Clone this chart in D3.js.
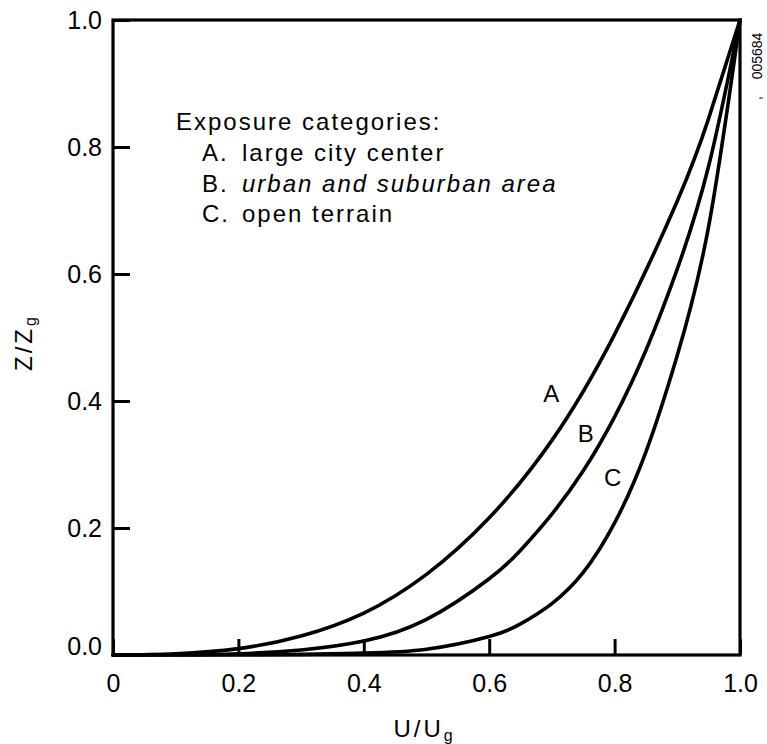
<!DOCTYPE html>
<html><head><meta charset="utf-8">
<script src="https://cdn.jsdelivr.net/npm/d3@7"></script>
<style>
html,body{margin:0;padding:0;background:#fff;}
svg{display:block;}
text{font-family:"Liberation Sans",Arial,Helvetica,sans-serif;fill:#000;}
</style></head><body>
<svg id="chart" width="767" height="744"></svg>
<script>
// ---- data ----
const uA = [0, 0.1, 0.2, 0.3, 0.4, 0.5, 0.6, 0.7, 0.8, 0.9, 0.95, 1.0];
const zA = [0, 0.002, 0.010, 0.030, 0.066, 0.127, 0.216, 0.338, 0.505, 0.715, 0.845, 1.0];
const uB = [0, 0.1, 0.2, 0.3, 0.4, 0.5, 0.6, 0.65, 0.7, 0.75, 0.8, 0.85, 0.9, 0.95, 1.0];
const zB = [0, 0.0003, 0.002, 0.008, 0.022, 0.056, 0.120, 0.165, 0.222, 0.290, 0.375, 0.480, 0.608, 0.770, 1.0];
const uC = [0, 0.2, 0.3, 0.4, 0.5, 0.6, 0.65, 0.7, 0.75, 0.8, 0.85, 0.9, 0.95, 1.0];
const zC = [0, 0.0005, 0.001, 0.003, 0.009, 0.029, 0.049, 0.081, 0.130, 0.208, 0.320, 0.472, 0.675, 1.0];

const xTicks = [0, 0.2, 0.4, 0.6, 0.8, 1.0];
const xTickLabels = ["0", "0.2", "0.4", "0.6", "0.8", "1.0"];
const yTicks = [0, 0.2, 0.4, 0.6, 0.8, 1.0];
const yTickLabels = ["0.0", "0.2", "0.4", "0.6", "0.8", "1.0"];

const curveNames = ["A", "B", "C"];
const labelU = [0.699, 0.754, 0.797];
const labelZ = [0.399, 0.335, 0.266];

const legendTitle = "Exposure categories:";
const legendKeys = ["A.", "B.", "C."];
const legendTexts = ["large city center", "urban and suburban area", "open terrain"];
const legendItalic = [false, true, false];

const xTitle = "U/U", xTitleSub = "g";
const yTitle = "Z/Z", yTitleSub = "g";
const figNumber = "005684";

// ---- layout ----
const svg = d3.select("#chart");
const L = 113, R = 740, T = 20, B = 655;
const x = d3.scaleLinear().domain([0, 1]).range([L, R]);
const y = d3.scaleLinear().domain([0, 1]).range([B, T]);
const black = "#000";

// curves
const series = [[uA, zA], [uB, zB], [uC, zC]];
const line = d3.line().x(d => x(d[0])).y(d => y(Math.max(0, d[1]))).curve(d3.curveNatural);
svg.append("g").selectAll("path").data(series).join("path")
  .attr("d", s => line(s[0].map((u, i) => [u, s[1][i]])))
  .attr("fill", "none").attr("stroke", black).attr("stroke-width", 3.6)
  .attr("stroke-linejoin", "round").attr("stroke-linecap", "round");

// axes (inward ticks)
const xAxis = d3.axisBottom(x).tickValues(xTicks)
  .tickFormat((d, i) => xTickLabels[i]).tickSizeInner(-16).tickSizeOuter(0).tickPadding(19);
const gx = svg.append("g").attr("transform", `translate(0,${B})`).call(xAxis);
gx.select(".domain").remove();
gx.selectAll(".tick line").attr("stroke", black).attr("stroke-width", 3);
gx.selectAll(".tick text").attr("font-size", 25).attr("font-family", null);

const yAxis = d3.axisLeft(y).tickValues(yTicks)
  .tickFormat((d, i) => yTickLabels[i]).tickSizeInner(-17).tickSizeOuter(0).tickPadding(11);
const gy = svg.append("g").attr("transform", `translate(${L},0)`).call(yAxis);
gy.select(".domain").remove();
gy.selectAll(".tick line").attr("stroke", black).attr("stroke-width", 3);
gy.selectAll(".tick text").attr("font-size", 25).attr("font-family", null)
  .attr("y", d => d === 0 ? -9 : 0);

// frame
svg.append("rect").attr("x", x(0)).attr("y", y(1))
  .attr("width", x(1) - x(0)).attr("height", y(0) - y(1))
  .attr("fill", "none").attr("stroke", black).attr("stroke-width", 3.2);

// curve labels
svg.append("g").selectAll("text").data(curveNames).join("text")
  .attr("x", (d, i) => x(labelU[i])).attr("y", (d, i) => y(labelZ[i]))
  .attr("text-anchor", "middle").attr("font-size", 24).text(d => d);

// legend
const lg = svg.append("g");
lg.append("text").attr("x", 176).attr("y", 130).attr("font-size", 24)
  .attr("letter-spacing", 2).text(legendTitle);
legendKeys.forEach((k, i) => {
  const by = 161 + i * 30.5;
  lg.append("text").attr("x", 202).attr("y", by).attr("font-size", 24)
    .attr("letter-spacing", 2).text(k);
  lg.append("text").attr("x", 242).attr("y", by).attr("font-size", 24)
    .attr("letter-spacing", 2)
    .attr("font-style", legendItalic[i] ? "italic" : "normal").text(legendTexts[i]);
});

// axis titles
const xt = svg.append("text").attr("x", 423).attr("y", 737).attr("text-anchor", "middle")
  .attr("font-size", 24);
xt.append("tspan").attr("letter-spacing", 3).text(xTitle);
xt.append("tspan").attr("font-size", 16).attr("dy", 4).text(xTitleSub);

const yt = svg.append("text").attr("transform", "translate(32,344) rotate(-90)")
  .attr("text-anchor", "middle").attr("font-size", 24);
yt.append("tspan").attr("letter-spacing", 3).text(yTitle);
yt.append("tspan").attr("font-size", 16).attr("dy", 4).text(yTitleSub);

// figure number at right edge
svg.append("text").attr("transform", "translate(762,56) rotate(-90)")
  .attr("text-anchor", "middle").attr("font-size", 14).text(figNumber);
svg.append("text").attr("transform", "translate(761,98) rotate(-90)")
  .attr("text-anchor", "middle").attr("font-size", 14).text(",");
</script>
</body></html>
